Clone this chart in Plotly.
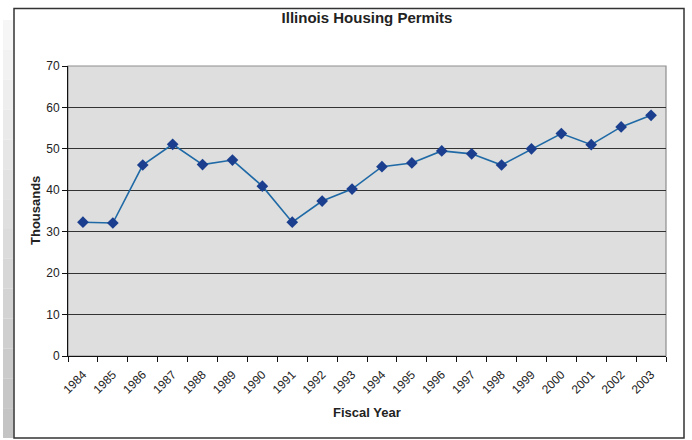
import plotly.graph_objects as go

# Illinois housing permits by fiscal year, in thousands
fiscal_years = ["1984", "1985", "1986", "1987", "1988", "1989", "1990",
                "1991", "1992", "1993", "1994", "1995", "1996", "1997",
                "1998", "1999", "2000", "2001", "2002", "2003"]
permits_thousands = [32.3, 32.1, 46.1, 51.1, 46.2, 47.3, 41.0,
                     32.3, 37.4, 40.3, 45.7, 46.6, 49.5, 48.8,
                     46.1, 50.0, 53.7, 51.0, 55.3, 58.1]
y_tick_values = [0, 10, 20, 30, 40, 50, 60, 70]

W, H = 692, 440
L, R, T, B = 68, 26, 66, 84
PW, PH = W - L - R, H - T - B

FONT = "Liberation Sans, Arial, sans-serif"


def px_x(p):
    return (p - L) / PW


def px_y(p):
    return (H - B - p) / PH


fig = go.Figure()
fig.add_trace(go.Scatter(
    x=fiscal_years,
    y=permits_thousands,
    mode="lines+markers",
    line=dict(color="#1f69a6", width=1.6),
    marker=dict(symbol="diamond", size=9, color="#1b3f8e",
                line=dict(color="#1b3f8e", width=0)),
    showlegend=False,
    cliponaxis=False,
))

shapes = []
# soft drop shadow on the left of the frame
n_steps = 14
top_px, bot_px = 20, 438
for i in range(n_steps):
    y0 = top_px + (bot_px - top_px) * i / n_steps
    y1 = top_px + (bot_px - top_px) * (i + 1) / n_steps
    g = int(250 - (250 - 196) * (i + 1) / n_steps)
    shapes.append(dict(type="rect", xref="paper", yref="paper",
                       x0=px_x(3), x1=px_x(13.5), y0=px_y(y1), y1=px_y(y0),
                       fillcolor=f"rgb({g},{g},{g})", line=dict(width=0),
                       layer="below"))
# outer frame
shapes.append(dict(type="rect", xref="paper", yref="paper",
                   x0=px_x(14), x1=px_x(684), y0=px_y(438), y1=px_y(8.5),
                   line=dict(color="#333333", width=1.5),
                   fillcolor="rgba(0,0,0,0)", layer="below"))
# plot area border (top and right)
shapes.append(dict(type="rect", xref="paper", yref="paper",
                   x0=0, x1=1, y0=0, y1=1,
                   line=dict(color="#8e8e8e", width=1.2),
                   fillcolor="rgba(0,0,0,0)", layer="below"))

fig.update_layout(
    width=W, height=H, autosize=False,
    margin=dict(l=L, r=R, t=T, b=B),
    paper_bgcolor="white",
    plot_bgcolor="#dddedd",
    font=dict(family=FONT, color="#222222", size=11),
    title=dict(text="<b>Illinois Housing Permits</b>",
               font=dict(family=FONT, size=15, color="#222222"),
               x=(367) / W, xanchor="center", xref="container",
               y=1 - 18 / H, yanchor="middle", yref="container"),
    xaxis=dict(
        type="category", range=[-0.5, 19.5],
        tickson="boundaries", ticks="outside", ticklen=5,
        tickcolor="#111111", tickwidth=1,
        showline=True, linecolor="#111111", linewidth=1,
        showgrid=False, zeroline=False,
        tickangle=-45, tickfont=dict(size=12, color="#222222"),
        ticklabelstandoff=6,
        fixedrange=True,
    ),
    yaxis=dict(
        range=[0, 70], tickvals=y_tick_values,
        ticks="outside", ticklen=5, tickcolor="#111111", tickwidth=1,
        showline=True, linecolor="#111111", linewidth=1,
        showgrid=True, gridcolor="#333333", gridwidth=1,
        zeroline=False, tickfont=dict(size=12, color="#222222"),
        fixedrange=True,
    ),
    shapes=shapes,
    annotations=[
        dict(text="<b>Thousands</b>", xref="paper", yref="paper",
             x=px_x(35), y=0.5, textangle=-90, showarrow=False,
             font=dict(family=FONT, size=13, color="#222222"),
             xanchor="center", yanchor="middle"),
        dict(text="<b>Fiscal Year</b>", xref="paper", yref="paper",
             x=0.5, y=px_y(412), showarrow=False,
             font=dict(family=FONT, size=13, color="#222222"),
             xanchor="center", yanchor="middle"),
    ],
)

fig.write_html("out.html")
